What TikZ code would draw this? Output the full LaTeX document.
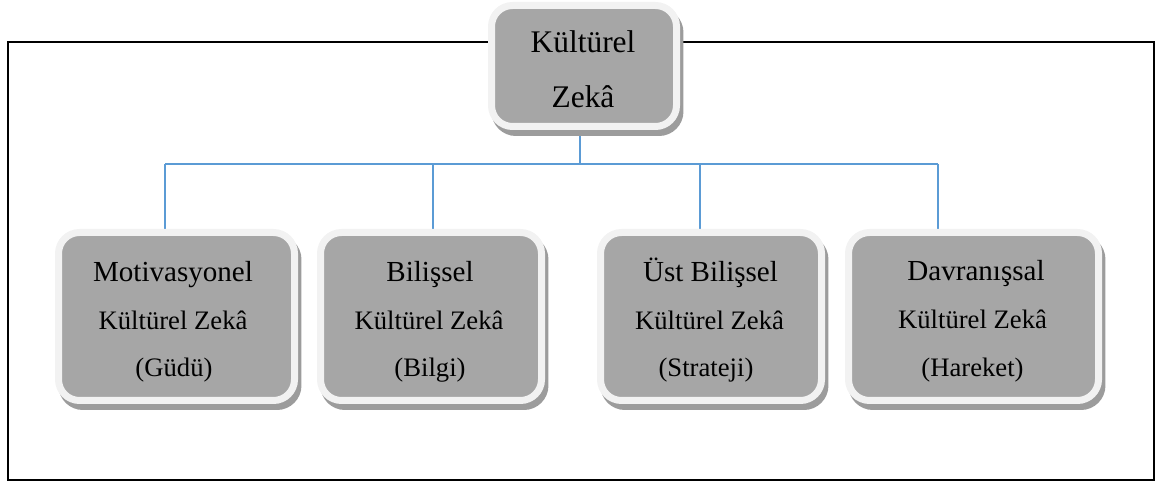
\documentclass[tikz,border=0pt]{standalone}
\usepackage{fontspec}
\setmainfont{Liberation Serif}
\definecolor{boxgray}{HTML}{A6A6A6}
\definecolor{rimwhite}{HTML}{F2F2F2}
\definecolor{shadegray}{HTML}{9C9C9C}
\definecolor{connblue}{HTML}{5B9BD5}
\tikzset{
  cbox/.style={draw=rimwhite, fill=boxgray, line width=5.25pt, rounded corners=15.75pt,
    inner sep=0pt, minimum height=126pt,
    preaction={draw=shadegray, fill=shadegray, line width=5.25pt,
      transform canvas={xshift=2.6pt, yshift=-4.5pt}}},
  conn/.style={draw=connblue, line width=1.1pt},
  frame/.style={draw=black, line width=1.5pt},
  bigtxt/.style={anchor=base, inner sep=0pt, font=\fontsize{23.6pt}{28pt}\selectfont},
  headtxt/.style={anchor=base, inner sep=0pt, font=\fontsize{21.8pt}{26pt}\selectfont},
  subtxt/.style={anchor=base, inner sep=0pt, font=\fontsize{20pt}{24pt}\selectfont}
}
\begin{document}
\begin{tikzpicture}[x=0.75pt, y=-0.75pt]
\useasboundingbox (0,0) rectangle (1171,484);
% frame
\draw[frame] (8,42) rectangle (1154,480);
% junction coordinates
\coordinate (j) at (580,164);
\coordinate (d1) at (165,164);
\coordinate (d2) at (433,164);
\coordinate (d3) at (700,164);
\coordinate (d4) at (938,164);
% connectors (under the boxes)
\draw[conn] (j) -- (580,120);
\draw[conn] (d1) -- (d4);
\draw[conn] (d1) -- (165,240);
\draw[conn] (d2) -- (433,240);
\draw[conn] (d3) -- (700,240);
\draw[conn] (d4) -- (938,240);
% boxes
\node[cbox, minimum width=138.75pt, minimum height=90.75pt] (top) at (584,66) {};
\node[cbox, minimum width=177pt] (b1) at (176.5,316.5) {};
\node[cbox, minimum width=165.75pt] (b2) at (431,316.5) {};
\node[cbox, minimum width=165.75pt] (b3) at (711,316.5) {};
\node[cbox, minimum width=187.5pt] (b4) at (973.5,316.5) {};
% texts
\node[bigtxt] (k1) at (583,53) {Kültürel};
\node[bigtxt] (k2) at (583,108) {Zekâ};
\node[headtxt] (a1) at (173,282) {Motivasyonel};
\node[subtxt] (a2) at (173,330) {Kültürel Zekâ};
\node[subtxt] (a3) at (174,377) {(Güdü)};
\node[headtxt] (c1) at (430,282) {Bilişsel};
\node[subtxt] (c2) at (429,330) {Kültürel Zekâ};
\node[subtxt] (c3) at (430,377) {(Bilgi)};
\node[headtxt] (e1) at (710.5,282) {Üst Bilişsel};
\node[subtxt] (e2) at (709.5,330) {Kültürel Zekâ};
\node[subtxt] (e3) at (706,377) {(Strateji)};
\node[headtxt] (g1) at (976,281) {Davranışsal};
\node[subtxt] (g2) at (972.5,329) {Kültürel Zekâ};
\node[subtxt] (g3) at (972.5,377) {(Hareket)};
\end{tikzpicture}
\end{document}
